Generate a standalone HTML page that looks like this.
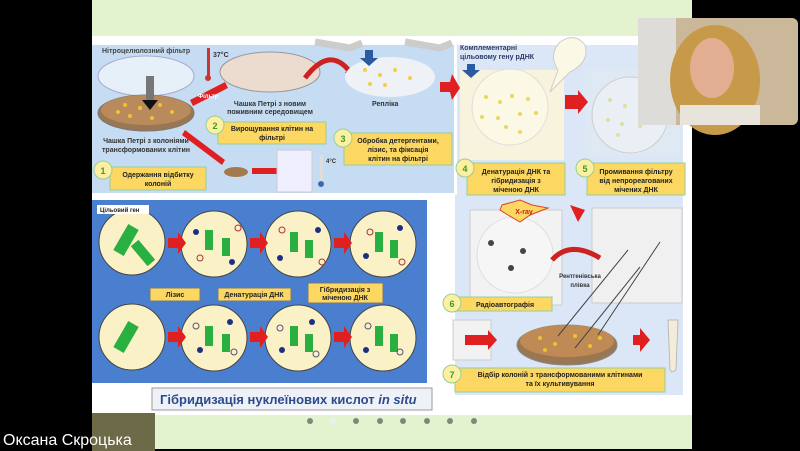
<!DOCTYPE html>
<html><head><meta charset="utf-8"><style>
body{margin:0;background:#000;width:800px;height:451px;overflow:hidden;font-family:"Liberation Sans",sans-serif}
svg{position:absolute;left:0;top:0}
</style></head><body>
<svg width="800" height="451" viewBox="0 0 800 451" font-family="Liberation Sans, sans-serif" font-weight="bold">
<rect width="800" height="451" fill="#000"/>
<rect x="92" y="0" width="600" height="449" fill="#e3f3cf"/>
<rect x="92" y="36" width="600" height="379" fill="#fff"/>
<rect x="92" y="45" width="362" height="148" fill="#c6dcf2"/>
<rect x="455" y="45" width="228" height="350" fill="#dbe7f6"/>
<rect x="455" y="45" width="2" height="150" fill="#fff"/>
<rect x="460" y="70" width="104" height="90" fill="#f7f3dc"/>
<circle cx="510" cy="107" r="38" fill="#fbf8e6" stroke="#ddd"/>
<g fill="#e8d860"><circle cx="486" cy="97" r="2"/><circle cx="500" cy="102" r="2"/><circle cx="512" cy="96" r="2"/><circle cx="528" cy="99" r="2"/><circle cx="482" cy="117" r="2"/><circle cx="498" cy="118" r="2"/><circle cx="520" cy="114" r="2"/><circle cx="506" cy="127" r="2"/><circle cx="536" cy="113" r="2"/><circle cx="520" cy="132" r="2"/></g>
<rect x="585" y="70" width="95" height="85" fill="#dfe9f3"/>
<circle cx="630" cy="115" r="38" fill="#e9eff5" stroke="#ccc"/>
<g fill="#dde0a0"><circle cx="610" cy="100" r="2"/><circle cx="625" cy="106" r="2"/><circle cx="608" cy="120" r="2"/><circle cx="622" cy="124" r="2"/><circle cx="640" cy="126" r="2"/><circle cx="618" cy="135" r="2"/></g>
<polygon points="565,95 578,95 578,90 588,102 578,114 578,109 565,109" fill="#e02020"/>
<polygon points="440,82 450,82 452,74 460,88 452,100 450,92 440,92" fill="#e02020"/>
<text x="102" y="53" font-size="7" fill="#444">Нітроцелюлозний фільтр</text>
<ellipse cx="146" cy="76" rx="48" ry="20" fill="#e6f0f8" stroke="#aac"/>
<ellipse cx="146" cy="113" rx="48" ry="18" fill="#9a7653" stroke="#777"/>
<ellipse cx="146" cy="110" rx="45" ry="15" fill="#b88a5c"/>
<g fill="#f0c030"><circle cx="125" cy="105" r="2"/><circle cx="140" cy="108" r="2"/><circle cx="160" cy="105" r="2"/><circle cx="172" cy="112" r="2"/><circle cx="130" cy="116" r="2"/><circle cx="152" cy="118" r="2"/><circle cx="118" cy="112" r="2"/></g>
<rect x="146" y="76" width="8" height="26" fill="#777"/>
<polygon points="142,100 158,100 150,110" fill="#111"/>
<text x="146" y="143" font-size="7" fill="#333" text-anchor="middle">Чашка Петрі з колоніями</text>
<text x="146" y="152" font-size="7" fill="#333" text-anchor="middle">трансформованих клітин</text>
<rect x="207" y="48" width="3" height="30" fill="#c33"/><circle cx="208" cy="78" r="3" fill="#c33"/>
<text x="213" y="57" font-size="7" fill="#333">37°C</text>
<polygon points="190,100 225,82 228,88 193,106" fill="#e02020"/>
<text x="198" y="98" font-size="6" fill="#fff">Фільтр</text>
<ellipse cx="270" cy="72" rx="50" ry="20" fill="#ecdcd0" stroke="#999"/>
<text x="270" y="106" font-size="7" fill="#333" text-anchor="middle">Чашка Петрі з новим</text>
<text x="270" y="114" font-size="7" fill="#333" text-anchor="middle">поживним середовищем</text>
<path d="M305 78 Q330 45 350 72" stroke="#c22" stroke-width="5" fill="none"/>
<polygon points="345,72 358,70 350,80" fill="#c22"/>
<ellipse cx="390" cy="77" rx="45" ry="20" fill="#eef2f6"/>
<g fill="#f0d040"><circle cx="365" cy="70" r="2"/><circle cx="380" cy="75" r="2"/><circle cx="395" cy="70" r="2"/><circle cx="410" cy="78" r="2"/><circle cx="385" cy="85" r="2"/><circle cx="370" cy="84" r="2"/></g>
<text x="372" y="106" font-size="7" fill="#333">Репліка</text>
<path d="M315 42 L350 48 L362 43" stroke="#ccc" stroke-width="7" fill="none"/>
<path d="M405 42 L440 48 L452 43" stroke="#ccc" stroke-width="7" fill="none"/>
<rect x="365" y="50" width="8" height="8" fill="#2a5aa0"/><polygon points="360,58 378,58 369,66" fill="#2a5aa0"/>
<polygon points="185,130 225,160 222,165 182,135" fill="#e02020"/>
<ellipse cx="236" cy="172" rx="12" ry="5" fill="#a37a4c"/>
<polygon points="252,168 280,168 280,163 290,171 280,179 280,174 252,174" fill="#e02020"/>
<rect x="277" y="150" width="35" height="42" fill="#eef" stroke="#ccc"/>
<rect x="320" y="155" width="3" height="28" fill="#ddd"/><circle cx="321" cy="184" r="3" fill="#3a6ab0"/>
<text x="326" y="163" font-size="6" fill="#333">4°C</text>
<text x="460" y="50" font-size="7" fill="#2a3a6a">Комплементарні</text>
<text x="460" y="59" font-size="7" fill="#2a3a6a">цільовому гену рДНК</text>
<rect x="467" y="64" width="8" height="6" fill="#2a5aa0"/><polygon points="462,70 480,70 471,78" fill="#2a5aa0"/>
<path d="M550 92 L558 70 Q548 55 560 42 Q575 32 585 45 Q590 62 570 72 Z" fill="#fbf8e6" stroke="#ccc"/>
<!-- radio section -->
<rect x="470" y="210" width="92" height="95" fill="#f2f2f2" stroke="#ccc"/>
<circle cx="515" cy="255" r="38" fill="#f6f6f6" stroke="#ddd"/>
<circle cx="491" cy="243" r="3" fill="#444"/><circle cx="523" cy="251" r="3" fill="#444"/><circle cx="511" cy="268" r="3" fill="#444"/>
<polygon points="502,205 520,200 532,205 548,208 530,215 520,222 508,215 500,210" fill="#fcd862" stroke="#e04020"/>
<text x="524" y="214" font-size="7" fill="#c02020" text-anchor="middle">X-ray</text>
<rect x="592" y="208" width="90" height="95" fill="#f0f0f0" stroke="#ccc"/>
<polygon points="570,205 585,210 578,222" fill="#e02020"/>
<path d="M552 260 Q570 240 600 258" stroke="#c22" stroke-width="5" fill="none"/>
<text x="580" y="278" font-size="6" fill="#333" text-anchor="middle">Рентгенівська</text>
<text x="580" y="287" font-size="6" fill="#333" text-anchor="middle">плівка</text>
<rect x="453" y="320" width="38" height="40" fill="#f2f2f2" stroke="#ccc"/>
<polygon points="465,335 488,335 488,330 497,340 488,350 488,345 465,345" fill="#e02020"/>
<ellipse cx="567" cy="345" rx="50" ry="20" fill="#9a7653" stroke="#888"/>
<ellipse cx="567" cy="341" rx="47" ry="16" fill="#c08a55"/>
<g fill="#f0c030"><circle cx="540" cy="338" r="2"/><circle cx="555" cy="344" r="2"/><circle cx="575" cy="336" r="2"/><circle cx="590" cy="346" r="2"/><circle cx="545" cy="350" r="2"/><circle cx="600" cy="338" r="2"/></g>
<line x1="558" y1="336" x2="628" y2="250" stroke="#444"/><line x1="575" y1="348" x2="640" y2="267" stroke="#444"/><line x1="598" y1="335" x2="660" y2="242" stroke="#444"/>
<polygon points="633,335 640,335 640,328 650,340 640,352 640,345 633,345" fill="#e02020"/>
<polygon points="668,320 678,320 676,370 672,372 670,370" fill="#f4ecd8" stroke="#bbb"/>
<!-- bottom-left dark panel -->
<rect x="92" y="200" width="335" height="183" fill="#4a7fcf"/>
<g fill="#fbf1c6" stroke="#444">
<circle cx="132" cy="242" r="33"/><circle cx="214" cy="244" r="33"/><circle cx="298" cy="244" r="33"/><circle cx="383" cy="244" r="33"/>
<circle cx="132" cy="337" r="33"/><circle cx="214" cy="338" r="33"/><circle cx="298" cy="338" r="33"/><circle cx="383" cy="338" r="33"/>
</g>
<g fill="#2ab040">
<rect x="120" y="225" width="12" height="30" transform="rotate(30 126 240)"/><rect x="138" y="240" width="10" height="26" transform="rotate(-40 143 253)"/>
<rect x="205" y="230" width="8" height="20"/><rect x="222" y="238" width="8" height="18"/><rect x="290" y="232" width="8" height="20"/><rect x="305" y="240" width="8" height="18"/><rect x="375" y="232" width="8" height="20"/><rect x="390" y="240" width="8" height="18"/>
<rect x="120" y="322" width="12" height="30" transform="rotate(30 126 337)"/><rect x="205" y="326" width="8" height="20"/><rect x="222" y="334" width="8" height="18"/><rect x="290" y="326" width="8" height="20"/><rect x="305" y="334" width="8" height="18"/><rect x="375" y="326" width="8" height="20"/><rect x="390" y="334" width="8" height="18"/>
</g>
<g fill="#1d2f80"><circle cx="196" cy="232" r="3"/><circle cx="232" cy="262" r="3"/><circle cx="280" cy="258" r="3"/><circle cx="318" cy="230" r="3"/><circle cx="366" cy="256" r="3"/><circle cx="400" cy="228" r="3"/><circle cx="200" cy="350" r="3"/><circle cx="230" cy="322" r="3"/><circle cx="282" cy="350" r="3"/><circle cx="312" cy="322" r="3"/><circle cx="366" cy="350" r="3"/></g>
<g fill="none" stroke="#a33"><circle cx="200" cy="258" r="3"/><circle cx="238" cy="228" r="3"/><circle cx="282" cy="230" r="3"/><circle cx="322" cy="262" r="3"/><circle cx="370" cy="232" r="3"/><circle cx="402" cy="262" r="3"/></g>
<g fill="none" stroke="#557"><circle cx="196" cy="326" r="3"/><circle cx="234" cy="352" r="3"/><circle cx="280" cy="328" r="3"/><circle cx="316" cy="354" r="3"/><circle cx="368" cy="326" r="3"/><circle cx="400" cy="352" r="3"/></g>
<g fill="#e02020">
<polygon points="168,238 178,238 178,232 186,243 178,254 178,248 168,248"/>
<polygon points="250,238 260,238 260,232 268,243 260,254 260,248 250,248"/>
<polygon points="334,238 344,238 344,232 352,243 344,254 344,248 334,248"/>
<polygon points="168,332 178,332 178,326 186,337 178,348 178,342 168,342"/>
<polygon points="250,332 260,332 260,326 268,337 260,348 260,342 250,342"/>
<polygon points="334,332 344,332 344,326 352,337 344,348 344,342 334,342"/>
</g>
<rect x="97" y="205" width="52" height="9" fill="#fff"/>
<text x="100" y="212" font-size="6" fill="#222">Цільовий ген</text>
<g font-size="7" fill="#222" text-anchor="middle">
<rect x="150" y="288" width="50" height="13" fill="#fcd862" stroke="#777"/><text x="175" y="297">Лізис</text>
<rect x="218" y="288" width="73" height="13" fill="#fcd862" stroke="#777"/><text x="254" y="297">Денатурація ДНК</text>
<rect x="308" y="283" width="75" height="20" fill="#fcd862" stroke="#777"/><text x="345" y="292">Гібридизація з</text><text x="345" y="300">міченою ДНК</text>
</g>
<!-- step boxes -->
<g font-size="7" fill="#222" text-anchor="middle">
<rect x="110" y="167" width="96" height="23" fill="#fcd862" stroke="#9c9"/>
<text x="158" y="177">Одержання відбитку</text><text x="158" y="186">колоній</text>
<rect x="218" y="122" width="108" height="22" fill="#fcd862" stroke="#9c9"/>
<text x="272" y="131">Вирощування клітин на</text><text x="272" y="140">фільтрі</text>
<rect x="344" y="133" width="108" height="32" fill="#fcd862" stroke="#9c9"/>
<text x="398" y="143">Обробка детергентами,</text><text x="398" y="152">лізис, та фіксація</text><text x="398" y="161">клітин на фільтрі</text>
<rect x="467" y="163" width="98" height="32" fill="#fcd862" stroke="#9c9"/>
<text x="516" y="174">Денатурація ДНК та</text><text x="516" y="183">гібридизація з</text><text x="516" y="192">міченою ДНК</text>
<rect x="587" y="163" width="98" height="32" fill="#fcd862" stroke="#9c9"/>
<text x="636" y="174">Промивання фільтру</text><text x="636" y="183">від непрореагованих</text><text x="636" y="192">мічених ДНК</text>
<rect x="457" y="297" width="95" height="14" fill="#fcd862" stroke="#9c9"/>
<text x="505" y="307">Радіоавтографія</text>
<rect x="455" y="368" width="210" height="24" fill="#fcd862" stroke="#9c9"/>
<text x="560" y="377">Відбір колоній з трансформованими клітинами</text><text x="560" y="386">та їх культивування</text>
</g>
<g font-size="9" fill="#3a9a2a" text-anchor="middle">
<circle cx="103" cy="170" r="9" fill="#fcf0a0" stroke="#9c9"/><text x="103" y="174">1</text>
<circle cx="215" cy="125" r="9" fill="#fcf0a0" stroke="#9c9"/><text x="215" y="129">2</text>
<circle cx="343" cy="138" r="9" fill="#fcf0a0" stroke="#9c9"/><text x="343" y="142">3</text>
<circle cx="465" cy="168" r="9" fill="#fcf0a0" stroke="#9c9"/><text x="465" y="172">4</text>
<circle cx="585" cy="168" r="9" fill="#fcf0a0" stroke="#9c9"/><text x="585" y="172">5</text>
<circle cx="452" cy="303" r="9" fill="#fcf0a0" stroke="#9c9"/><text x="452" y="307">6</text>
<circle cx="452" cy="374" r="9" fill="#fcf0a0" stroke="#9c9"/><text x="452" y="378">7</text>
</g>
<rect x="152" y="388" width="280" height="22" fill="#eef2f8" stroke="#999"/>
<text x="160" y="404" font-size="13" fill="#2b4c8c">Гібридизація нуклеїнових кислот <tspan font-style="italic">in situ</tspan></text>
<g fill="#7a8a7a"><circle cx="310" cy="421" r="3"/><circle cx="333" cy="421" r="3" fill="#eee"/><circle cx="356" cy="421" r="3"/><circle cx="380" cy="421" r="3"/><circle cx="403" cy="421" r="3"/><circle cx="427" cy="421" r="3"/><circle cx="450" cy="421" r="3"/><circle cx="474" cy="421" r="3"/></g>
<!-- webcam -->
<rect x="638" y="18" width="160" height="107" rx="6" fill="#cbb89a"/>
<rect x="638" y="18" width="38" height="107" fill="#dedcd8"/>
<ellipse cx="715" cy="80" rx="45" ry="55" fill="#c79a4a"/>
<ellipse cx="712" cy="68" rx="22" ry="30" fill="#e2ae92"/>
<rect x="680" y="105" width="80" height="20" fill="#e8e4dc"/>
<rect x="92" y="413" width="63" height="38" fill="#6d6a48"/>
<text x="3" y="445" font-size="16" font-weight="normal" fill="#fff">Оксана Скроцька</text>
</svg>
</body></html>
